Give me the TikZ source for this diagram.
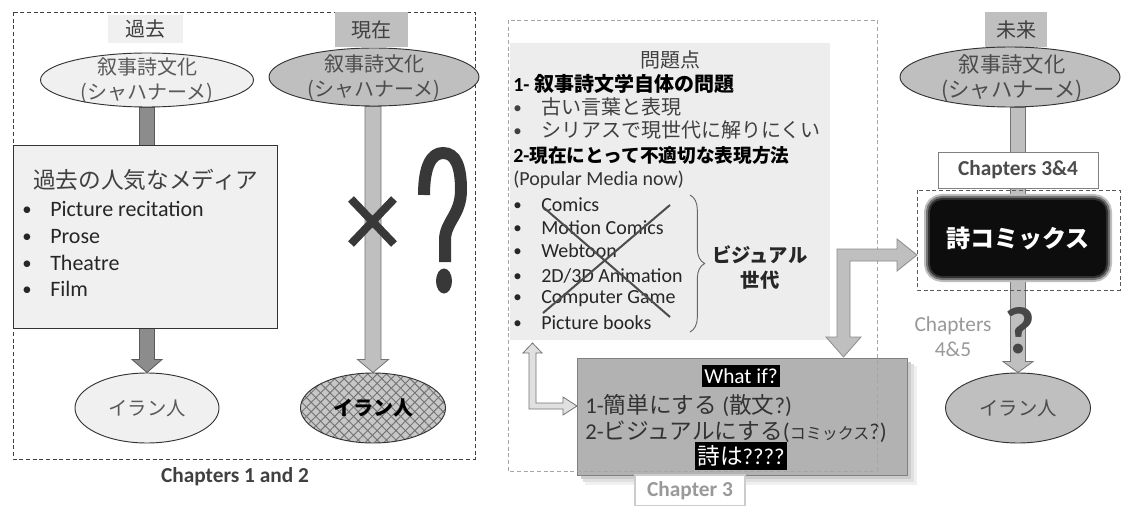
\documentclass[tikz,border=0pt]{standalone}
\usepackage{fontspec}
\setmainfont{Carlito}
\newfontfamily\jp{Noto Sans CJK JP}
\usetikzlibrary{shapes.geometric,patterns.meta,decorations.pathreplacing,calc}
\pgfdeclarelayer{bottom}
\pgfdeclarelayer{back}
\pgfsetlayers{bottom,back,main}
\newcommand\fs[2]{\fontsize{#1}{#2}\selectfont}
\newcommand\bl{\makebox[21pt][l]{\raisebox{0.05em}{\scalebox{0.85}{•}}}}
% block arrow pointing down, from node anchor #2 to node anchor #3
\newcommand\blockdown[6]{\path[#1] let \p1=(#2), \p2=(#3) in
  (\x2-#4,\y1) -- (\x2+#4,\y1) -- (\x2+#4,\y2+#6) -- (\x2+#5,\y2+#6) -- (\x2,\y2)
  -- (\x2-#5,\y2+#6) -- (\x2-#4,\y2+#6) -- cycle;}
\tikzset{
  lbl/.style={inner sep=0pt, text=black!75},
  ell/.style={ellipse, draw=black!80, line width=0.7pt, inner sep=0pt},
  sh1/.style={fill=black!45, draw=black!65, line width=0.6pt},
  sh2/.style={fill=black!25, draw=black!55, line width=0.6pt},
  darr/.style={fill=black!25, draw=black!45, line width=0.6pt},
  larr/.style={fill=black!12, draw=black!55, line width=0.6pt},
  frame/.style={dash pattern=on 3pt off 2pt, draw=black!75, line width=0.6pt},
  lframe/.style={dash pattern=on 3pt off 2pt, draw=black!35, line width=0.5pt},
  inv/.style={fill=black, text=white, inner xsep=1.5pt, inner ysep=2.5pt},
  qm/.style={line width=9pt, draw=black!78},
  glow/.style={rounded corners=9pt, line join=round},
}
\begin{document}
\begin{tikzpicture}[x=0.75pt,y=-0.75pt]
\begin{pgfonlayer}{bottom}
\fill[white] (0,0) rectangle (1121,506);
\end{pgfonlayer}
\useasboundingbox (0,0) rectangle (1121,506);

%================ left frame: past / present
\draw[frame] (13,12) rectangle (475,459);
\node[lbl, font=\bfseries\fs{16pt}{19pt}, text=black!75] (c12) at (235,477) {Chapters 1 and 2};

% past
\node[lbl, fill=black!6, minimum width=75*0.75pt, minimum height=28*0.75pt, font=\jp\fs{15pt}{18pt}] (h1) at (145,29) {過去};
\node[ell, fill=black!6, minimum width=213*0.75pt, minimum height=54*0.75pt] (e1) at (147,80) {};
\node[lbl, align=center, font=\jp\fs{15pt}{18.75pt}, text=black!65] (e1t) at (147,81) {叙事詩文化\\(シャハナーメ)};
\node[draw=black!80, fill=black!6, line width=0.7pt, minimum width=264*0.75pt, minimum height=183*0.75pt, inner sep=0pt] (p1) at (145,236.5) {};
\node[lbl, anchor=west, font=\jp\fs{17pt}{20pt}] (p1t) at (33,180) {過去の人気なメディア};
\node[lbl, anchor=west, font=\fs{16.5pt}{20pt}, text=black!85] (p1a) at (22,209) {\bl Picture recitation};
\node[lbl, anchor=west, font=\fs{16.5pt}{20pt}, text=black!85] (p1b) at (22,237) {\bl Prose};
\node[lbl, anchor=west, font=\fs{16.5pt}{20pt}, text=black!85] (p1c) at (22,263) {\bl Theatre};
\node[lbl, anchor=west, font=\fs{16.5pt}{20pt}, text=black!85] (p1d) at (22,289) {\bl Film};
\node[ell, fill=black!6, minimum width=144*0.75pt, minimum height=70*0.75pt] (e4) at (147,408) {};
\node[lbl, font=\jp\fs{14.5pt}{18pt}, text=black!65] (e4t) at (e4) {イラン人};

% present
\node[lbl, fill=black!25, minimum width=73*0.75pt, minimum height=35*0.75pt, font=\jp\fs{15pt}{18pt}] (h2) at (371.5,29.5) {現在};
\node[ell, fill=black!25, minimum width=210*0.75pt, minimum height=58*0.75pt] (e2) at (374,77) {};
\node[lbl, align=center, font=\jp\fs{15pt}{18.75pt}, text=black!70] (e2t) at (374,78) {叙事詩文化\\(シャハナーメ)};
\node[ell, preaction={fill=black!22},
  preaction={pattern={Lines[angle=45,distance=5pt,line width=0.7pt]}, pattern color=black!55},
  pattern={Lines[angle=-45,distance=5pt,line width=0.7pt]}, pattern color=black!55,
  minimum width=145*0.75pt, minimum height=70*0.75pt] (e5) at (373,408) {};
\node[lbl, font=\jp\bfseries\fs{15pt}{18pt}, text=black] (e5t) at (e5) {イラン人};

%================ middle: problems
\node[fill=black!7, minimum width=320*0.75pt, minimum height=297*0.75pt, inner sep=0pt] (pb) at (670,191.5) {};
\node[lbl, font=\jp\fs{15pt}{18pt}] (pb0) at (670,60) {問題点};
\node[lbl, anchor=west, font=\bfseries\fs{15pt}{18pt}, text=black] (pb1) at (513,84) {1- {\jp 叙事詩文学自体の問題}};
\node[lbl, anchor=west, font=\fs{15pt}{18pt}] (pb2) at (513,107) {\bl{\jp 古い言葉と表現}};
\node[lbl, anchor=west, font=\fs{15pt}{18pt}] (pb3) at (513,130) {\bl{\jp シリアスで現世代に解りにくい}};
\node[lbl, anchor=west, font=\bfseries\fs{15pt}{18pt}, text=black] (pb4) at (513,155) {2-{\jp\fs{14pt}{17pt}現在にとって不適切な表現方法}};
\node[lbl, anchor=west, font=\fs{15pt}{18pt}, text=black!80] (pb5) at (513,180) {(Popular Media now)};
\node[lbl, anchor=west, font=\fs{15pt}{18pt}, text=black!85] (m1) at (513,205) {\bl Comics};
\node[lbl, anchor=west, font=\fs{15pt}{18pt}, text=black!85] (m2) at (513,228) {\bl Motion Comics};
\node[lbl, anchor=west, font=\fs{15pt}{18pt}, text=black!85] (m3) at (513,251) {\bl Webtoon};
\node[lbl, anchor=west, font=\fs{15pt}{18pt}, text=black!85] (m4) at (513,276) {\bl 2D/3D Animation};
\node[lbl, anchor=west, font=\fs{15pt}{18pt}, text=black!85] (m5) at (513,299) {\bl Computer Game};
\node[lbl, anchor=west, font=\fs{15pt}{18pt}, text=black!85] (m6) at (513,323) {\bl Picture books};
\draw[black!70, line width=1.5pt] (543,207) -- (670,317) (670,205) -- (543,313);
\draw[decorate, decoration={brace, amplitude=11pt}, black!60, line width=0.7pt] (690,195) -- (690,332);
\node[lbl, align=center, font=\jp\bfseries\fs{14.5pt}{18.75pt}, text=black!85] (vis) at (760,267) {ビジュアル\\世代};

% what if box with soft shadow
\fill[black!6] (585,366) rectangle (917,485);
\fill[black!12] (583,364) rectangle (914,482);
\fill[black!20] (581,362) rectangle (911,479);
\node[fill=black!30, draw=black!50, line width=0.6pt, minimum width=330*0.75pt, minimum height=117*0.75pt, inner sep=0pt] (wi) at (742,416.5) {};
\node[inv, font=\fs{16pt}{18pt}] (wi1) at (741,376) {What if?};
\node[lbl, anchor=west, font=\fs{17pt}{20pt}, text=black!80] (wi2) at (585,405) {1-{\jp 簡単にする} ({\jp 散文}?)};
\node[lbl, anchor=west, font=\fs{17pt}{20pt}, text=black!80] (wi3) at (585,432) {2-{\jp ビジュアルにする}({\jp\fs{12pt}{14pt}コミックス}?)};
\node[inv, font=\fs{17pt}{20pt}] (wi4) at (741,456) {{\jp 詩は}????};

\draw[lframe] (508,20) rectangle (877,471);
\node[draw=black!20, fill=white, line width=0.8pt, minimum width=110*0.75pt, minimum height=31*0.75pt, inner sep=0pt, font=\bfseries\fs{16pt}{18pt}, text=black!40] (c3) at (690,490.5) {Chapter 3};

% L arrows
\coordinate (la) at (532.5,343);
\draw[larr] (la) -- (542,353) -- (536,353) -- (536,403) -- (563,403) -- (563,397) -- (577,406)
  -- (563,415) -- (563,409) -- (529,409) -- (529,353) -- (523,353) -- cycle;
\coordinate (ra) at (843.5,357);
\draw[darr] (ra) -- (861,337) -- (850,337) -- (850,261) -- (897,261) -- (897,271) -- (917,255)
  -- (897,239) -- (897,249) -- (837,249) -- (837,337) -- (826,337) -- cycle;

%================ right: future
\node[lbl, fill=black!25, minimum width=62*0.75pt, minimum height=35*0.75pt, font=\jp\fs{15pt}{18pt}] (h3) at (1016,29.5) {未来};
\node[ell, fill=black!25, minimum width=220*0.75pt, minimum height=60*0.75pt] (e3) at (1010,77) {};
\node[lbl, align=center, font=\jp\fs{16pt}{18.75pt}, text=black!70] (e3t) at (1012,78) {叙事詩文化\\(シャハナーメ)};
\node[draw=black!50, fill=white, line width=0.6pt, minimum width=160*0.75pt, minimum height=36*0.75pt, inner sep=0pt, font=\bfseries\fs{16pt}{18pt}, text=black!70] (c34) at (1018,170) {Chapters 3\&4};
% soft-edged black box
\draw[glow, line width=9pt, black!25] (930,200) rectangle (1106,276);
\draw[glow, line width=6pt, black!55] (930,200) rectangle (1106,276);
\draw[glow, line width=3pt, black!80] (930,200) rectangle (1106,276);
\node[fill=black!95, rounded corners=9pt, minimum width=176*0.75pt, minimum height=76*0.75pt, inner sep=0pt,
  font=\jp\bfseries\fs{18pt}{20pt}, text=white] (pc) at (1018,238) {詩コミックス};
\draw[dash pattern=on 3pt off 2pt, black!65, line width=0.5pt] (917,190) rectangle (1120,290);
\node[lbl, align=center, font=\fs{16pt}{18.75pt}, text=black!40] (c45) at (953,337) {Chapters\\4\&5};
\node[ell, fill=black!25, minimum width=145*0.75pt, minimum height=70*0.75pt] (e6) at (1018,408) {};
\node[lbl, font=\jp\fs{14.5pt}{18pt}, text=black!70] (e6t) at (e6) {イラン人};
\node[inner sep=0pt, font=\bfseries\fs{50pt}{55pt}, text=black!72] (q2) at (1020,331) {?};

%================ marks
\draw[line width=6pt, black!78] (351,199) -- (394,244) (394,199) -- (351,244);
\draw[qm] (424,195) .. controls (424,165) and (432,153) .. (443,153) .. controls (456,153) and (461,167) .. (461,190)
  .. controls (461,215) and (445,222) .. (445,240) -- (445,262);
\fill[black!78] (444,281) ellipse [x radius=6pt, y radius=9.4pt];

%================ shafts (behind)
\begin{pgfonlayer}{back}
\blockdown{sh1}{e1.south}{e4.north}{5.6pt}{11.25pt}{9.75pt}
\blockdown{sh2}{e2.south}{e5.north}{6pt}{11.6pt}{9.75pt}
\blockdown{sh2}{e3.south}{e6.north}{5.6pt}{11.25pt}{8.25pt}
\end{pgfonlayer}
\end{tikzpicture}
\end{document}
